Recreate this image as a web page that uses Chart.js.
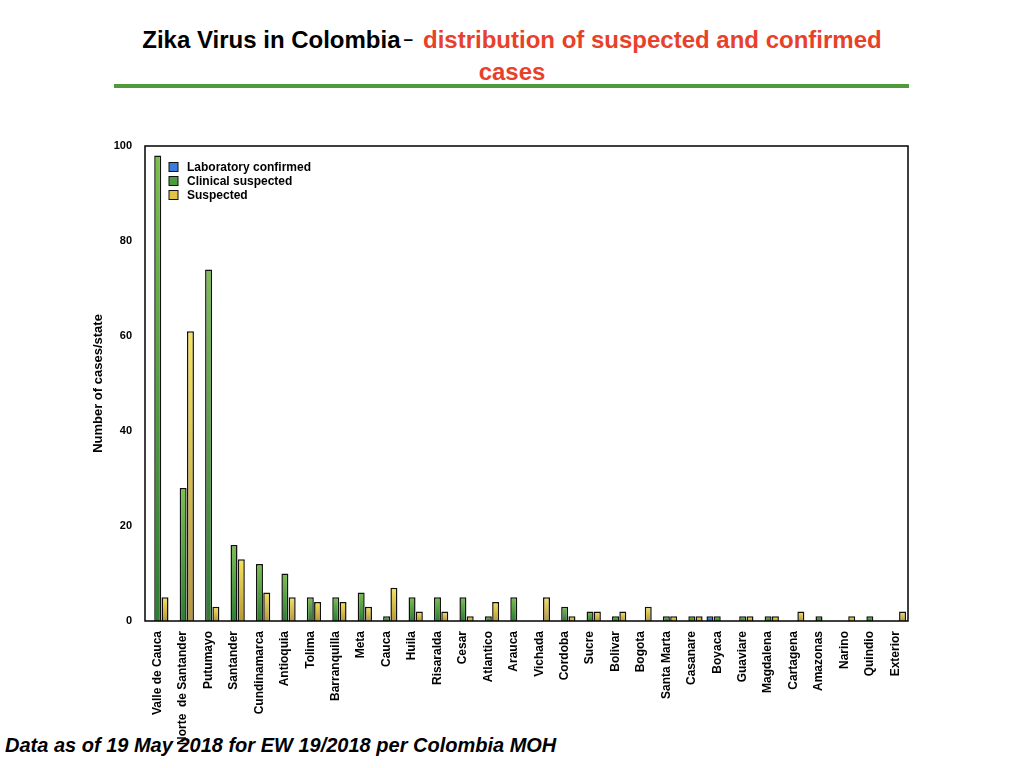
<!DOCTYPE html>
<html>
<head>
<meta charset="utf-8">
<script src="https://cdn.jsdelivr.net/npm/chart.js@4/dist/chart.umd.min.js"></script>
<style>
  html, body { margin: 0; padding: 0; background: #fff; }
  body { width: 1024px; height: 768px; position: relative; overflow: hidden; font-family: "Liberation Sans", Arial, sans-serif; }
  #title { position: absolute; left: 0; top: 24px; width: 1024px; text-align: center; font-weight: bold; font-size: 24px; line-height: 32px; color: #000; }
  #title .red { color: #e8412b; }
  #title .dash { font-size: 17px; line-height: 0; position: relative; top: -3px; margin-left: 3px; margin-right: 10px; }
  #rule { position: absolute; left: 114px; top: 84px; width: 795px; height: 4px; background: #4e9a3d; }
  #note { position: absolute; left: 5px; top: 733px; font-size: 20px; line-height: 24px; font-weight: bold; font-style: italic; color: #000; }
  #wrap { position: absolute; left: 0; top: 120px; width: 930px; height: 648px; }
</style>
</head>
<body>
<div id="title">Zika Virus in Colombia<span class="dash">–</span><span class="red">distribution of suspected and confirmed<br>cases</span></div>
<div id="rule"></div>
<div id="note">Data as of 19 May 2018 for EW 19/2018 per Colombia MOH</div>
<div id="wrap"><canvas id="chart"></canvas></div>
<script>
Chart.defaults.font.family = '"Liberation Sans", Arial, sans-serif';
Chart.defaults.color = "#000";
Chart.defaults.animation = false;
Chart.defaults.maintainAspectRatio = false;

const states = ["Valle de Cauca", "Norte  de Santander", "Putumayo", "Santander", "Cundinamarca", "Antioquia",
  "Tolima", "Barranquilla", "Meta", "Cauca", "Huila", "Risaralda", "Cesar", "Atlantico", "Arauca", "Vichada",
  "Cordoba", "Sucre", "Bolivar", "Bogota", "Santa Marta", "Casanare", "Boyaca", "Guaviare", "Magdalena",
  "Cartagena", "Amazonas", "Narino", "Quindio", "Exterior"];
const labConfirmed = [0, 0, 0, 0, 0, 0, 0, 0, 0, 0, 0, 0, 0, 0, 0, 0, 0, 0, 0, 0, 0, 0, 1, 0, 0, 0, 0, 0, 0, 0];
const clinicalSuspected = [98, 28, 74, 16, 12, 10, 5, 5, 6, 1, 5, 5, 5, 1, 5, 0, 3, 2, 1, 0, 1, 1, 1, 1, 1, 0, 1, 0, 1, 0];
const suspected = [5, 61, 3, 13, 6, 5, 4, 4, 3, 7, 2, 2, 1, 4, 0, 5, 1, 2, 2, 3, 1, 1, 0, 1, 1, 2, 0, 1, 0, 2];
const yTicks = [0, 20, 40, 60, 80, 100];

// light at the top of each bar, darker at its base
function barFill(top, bottom) {
  return (c) => {
    const chart = c.chart;
    if (!chart.chartArea || c.type !== "data" || !c.parsed) return bottom;
    const y = chart.scales.y;
    const y0 = y.getPixelForValue(0), y1 = y.getPixelForValue(c.parsed.y);
    if (!(y0 > y1)) return bottom;
    const g = chart.ctx.createLinearGradient(0, y1, 0, y0);
    g.addColorStop(0, top);
    g.addColorStop(1, bottom);
    return g;
  };
}

const frame = {
  id: "frame",
  afterDatasetsDraw(chart) {
    const { ctx, chartArea: a } = chart;
    ctx.save();
    ctx.strokeStyle = "#000";
    ctx.lineWidth = 1.5;
    ctx.strokeRect(a.left, a.top, a.right - a.left, a.bottom - a.top);
    ctx.restore();
  },
};

const innerLegend = {
  id: "innerLegend",
  afterDraw(chart) {
    const { ctx, chartArea: a } = chart;
    ctx.save();
    ctx.font = 'bold 12px "Liberation Sans", Arial, sans-serif';
    ctx.textBaseline = "middle";
    chart.data.datasets.forEach((ds, i) => {
      const x = a.left + 24, y = a.top + 21 + i * 14;
      ctx.fillStyle = ds.swatch;
      ctx.fillRect(x, y - 4.5, 9, 9);
      ctx.strokeStyle = "#111";
      ctx.lineWidth = 1;
      ctx.strokeRect(x, y - 4.5, 9, 9);
      ctx.fillStyle = "#000";
      ctx.fillText(ds.label, x + 18, y + 0.5);
    });
    ctx.restore();
  },
};

new Chart(document.getElementById("chart"), {
  type: "bar",
  data: {
    labels: states,
    datasets: [
      { label: "Laboratory confirmed", data: labConfirmed, swatch: "#3b7dd8", backgroundColor: barFill("#5b9bea", "#2a5fb0") },
      { label: "Clinical suspected", data: clinicalSuspected, swatch: "#4a9e3e", backgroundColor: barFill("#7cbf52", "#2e7d34") },
      { label: "Suspected", data: suspected, swatch: "#e0c444", backgroundColor: barFill("#f6e45c", "#b8983a") },
    ],
  },
  options: {
    layout: { padding: { left: 87, right: 22, top: 26, bottom: 0 } },
    datasets: { bar: { borderColor: "#111", borderWidth: 1.5, categoryPercentage: 0.86, barPercentage: 0.96 } },
    plugins: { legend: { display: false }, tooltip: { enabled: false } },
    scales: {
      x: {
        grid: { display: false, drawTicks: false },
        border: { display: false },
        ticks: { autoSkip: false, minRotation: 90, maxRotation: 90, padding: 10, font: { size: 12, weight: "bold" } },
        afterFit: (s) => { s.height = 147; },
      },
      y: {
        min: 0, max: 100,
        grid: { display: false, drawTicks: false },
        border: { display: false },
        afterBuildTicks: (s) => { s.ticks = yTicks.map((v) => ({ value: v })); },
        ticks: { padding: 13, font: { size: 11, weight: "bold" } },
        title: { display: true, text: "Number of cases/state", font: { size: 13, weight: "bold" }, padding: { top: 4, bottom: 4 } },
        afterFit: (s) => { s.width = 58; },
      },
    },
  },
  plugins: [frame, innerLegend],
});
</script>
</body>
</html>
